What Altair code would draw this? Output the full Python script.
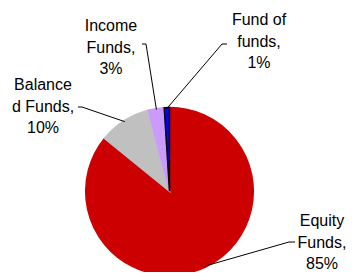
import altair as alt
import pandas as pd
import numpy as np

# ---- data ----
categories = ["Equity Funds", "Balanced Funds", "Income Funds", "Fund of funds"]
values = [85, 10, 3, 1]
label_texts = ["Equity\nFunds,\n85%", "Balance\nd Funds,\n10%", "Income\nFunds,\n3%", "Fund of\nfunds,\n1%"]
fill_colors = ["#CC0000", "#C0C0C0", "#CC99FF", "#0000FF"]
stroke_colors = ["#CC0000", "#C0C0C0", "#CC99FF", "#000000"]

# ---- layout (plot pixel coordinates) ----
CX, CY, R = 161.5, 183.3, 83.8
label_pos = [(314, 218), (35, 82), (103, 23), (251, 17)]
dash_seg = [((281, 234), (287, 234)), ((70, 99), (74, 99)), ((134, 36), (138, 36)), ((214, 36), (219, 36))]
dash_join = [0, 1, 1, 0]  # which end of the dash the leader line starts from

total = float(sum(values))
cum = np.cumsum([0] + values[:-1])
mids = [(c + v / 2.0) / total * 2 * np.pi for c, v in zip(cum, values)]
edge = [(CX + (R - 1) * np.sin(m), CY - (R - 1) * np.cos(m)) for m in mids]

pie_df = pd.DataFrame({"category": categories, "value": values, "idx": list(range(len(values)))})

lab_df = pd.DataFrame({
    "label": label_texts,
    "lx": [p[0] for p in label_pos],
    "ly": [p[1] for p in label_pos],
})

rows = []
for i in range(len(categories)):
    (a, b) = dash_seg[i]
    rows.append({"x": a[0], "y": a[1], "x2": b[0], "y2": b[1]})
    j = dash_seg[i][dash_join[i]]
    rows.append({"x": j[0], "y": j[1], "x2": edge[i][0], "y2": edge[i][1]})
lead_df = pd.DataFrame(rows)

arc = alt.Chart(pie_df).mark_arc(radius=R, strokeWidth=1.5).encode(
    theta=alt.Theta("value:Q", stack=True),
    order=alt.Order("idx:Q"),
    fill=alt.Fill("category:N", scale=alt.Scale(domain=categories, range=fill_colors), legend=None),
    stroke=alt.Stroke("category:N", scale=alt.Scale(domain=categories, range=stroke_colors), legend=None),
    x=alt.value(CX),
    y=alt.value(CY),
)

leaders = alt.Chart(lead_df).mark_rule(color="black", strokeWidth=1).encode(
    x=alt.X("x:Q", scale=None, axis=None),
    y=alt.Y("y:Q", scale=None, axis=None),
    x2="x2:Q",
    y2="y2:Q",
)

labels = alt.Chart(lab_df).mark_text(
    lineBreak="\n", font="Liberation Sans", fontSize=16, lineHeight=21.5,
    align="center", baseline="alphabetic", color="black",
).encode(
    x=alt.X("lx:Q", scale=None, axis=None),
    y=alt.Y("ly:Q", scale=None, axis=None),
    text="label:N",
)

chart = alt.layer(arc, leaders, labels).properties(
    width=341, height=264, padding=0,
    autosize=alt.AutoSizeParams(type="fit", contains="padding"),
).configure_view(stroke=None)

chart.save("out.html", embed_options={"renderer": "svg", "actions": False})
